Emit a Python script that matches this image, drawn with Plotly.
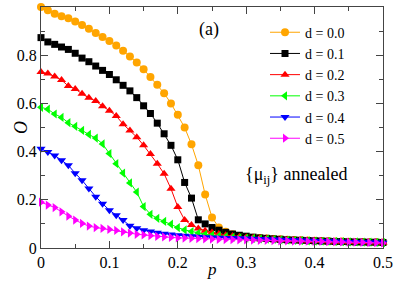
import plotly.graph_objects as go

p = [round(i * 0.01, 2) for i in range(51)]

o_d00 = [1.0, 0.987, 0.972, 0.962, 0.953, 0.94, 0.925, 0.91, 0.892, 0.876,
         0.859, 0.84, 0.818, 0.795, 0.77, 0.742, 0.71, 0.677, 0.642, 0.6,
         0.553, 0.5, 0.43, 0.343, 0.222, 0.127, 0.085, 0.067, 0.057, 0.05,
         0.046, 0.043, 0.041, 0.039, 0.037, 0.036, 0.034, 0.033, 0.032, 0.031,
         0.030, 0.029, 0.028, 0.027, 0.027, 0.026, 0.025, 0.025, 0.024, 0.024, 0.023]
o_d01 = [0.873, 0.855, 0.845, 0.834, 0.824, 0.808, 0.788, 0.773, 0.755, 0.737,
         0.72, 0.698, 0.675, 0.652, 0.624, 0.59, 0.558, 0.518, 0.474, 0.426,
         0.366, 0.272, 0.207, 0.117, 0.1, 0.085, 0.074, 0.065, 0.058, 0.053,
         0.049, 0.045, 0.042, 0.040, 0.038, 0.036, 0.034, 0.033, 0.032, 0.031,
         0.030, 0.029, 0.028, 0.027, 0.027, 0.026, 0.025, 0.025, 0.024, 0.024, 0.023]
o_d02 = [0.73, 0.724, 0.712, 0.697, 0.672, 0.66, 0.64, 0.623, 0.61, 0.588,
         0.57, 0.548, 0.514, 0.488, 0.46, 0.426, 0.39, 0.35, 0.308, 0.246,
         0.17, 0.116, 0.095, 0.081, 0.072, 0.064, 0.058, 0.053, 0.05, 0.047,
         0.045, 0.043, 0.041, 0.039, 0.037, 0.035, 0.034, 0.033, 0.032, 0.031,
         0.030, 0.029, 0.028, 0.027, 0.027, 0.026, 0.025, 0.025, 0.024, 0.024, 0.023]
o_d03 = [0.584, 0.576, 0.556, 0.542, 0.52, 0.505, 0.488, 0.471, 0.456, 0.432,
         0.392, 0.35, 0.311, 0.27, 0.232, 0.172, 0.14, 0.123, 0.11, 0.099,
         0.085, 0.075, 0.068, 0.062, 0.057, 0.053, 0.05, 0.047, 0.045, 0.043,
         0.041, 0.040, 0.038, 0.037, 0.036, 0.034, 0.033, 0.032, 0.031, 0.030,
         0.029, 0.028, 0.028, 0.027, 0.026, 0.025, 0.025, 0.024, 0.024, 0.023, 0.022]
o_d04 = [0.412, 0.398, 0.384, 0.364, 0.343, 0.31, 0.281, 0.247, 0.213, 0.184,
         0.157, 0.136, 0.116, 0.092, 0.082, 0.074, 0.068, 0.063, 0.059, 0.056,
         0.053, 0.051, 0.049, 0.047, 0.045, 0.044, 0.043, 0.042, 0.041, 0.040,
         0.039, 0.038, 0.037, 0.036, 0.035, 0.034, 0.033, 0.032, 0.031, 0.030,
         0.029, 0.028, 0.028, 0.027, 0.026, 0.025, 0.025, 0.024, 0.023, 0.023, 0.022]
o_d05 = [0.19, 0.178, 0.168, 0.15, 0.132, 0.116, 0.102, 0.091, 0.085, 0.081,
         0.077, 0.073, 0.067, 0.062, 0.057, 0.054, 0.051, 0.048, 0.046, 0.044,
         0.042, 0.041, 0.040, 0.039, 0.038, 0.037, 0.036, 0.035, 0.035, 0.034,
         0.034, 0.033, 0.032, 0.032, 0.031, 0.030, 0.030, 0.029, 0.029, 0.028,
         0.027, 0.027, 0.026, 0.026, 0.025, 0.024, 0.024, 0.023, 0.022, 0.022, 0.021]

names = ["d = 0.0", "d = 0.1", "d = 0.2", "d = 0.3", "d = 0.4", "d = 0.5"]
series = [o_d00, o_d01, o_d02, o_d03, o_d04, o_d05]
colors = ["#FFA500", "#000000", "#FF0000", "#00FF00", "#0000FF", "#FF00FF"]
symbols = ["circle", "square", "triangle-up", "triangle-left", "triangle-down", "triangle-right"]
sizes = [8, 7, 8, 8, 8, 8]

SERIF = "Liberation Serif, Times New Roman, serif"

fig = go.Figure()
for nm, ys, c, s, sz in zip(names, series, colors, symbols, sizes):
    fig.add_trace(go.Scatter(
        x=p, y=ys, name=nm, mode="lines+markers",
        line=dict(color=c, width=1),
        marker=dict(symbol=s, size=sz, color=c, line=dict(width=0)),
        cliponaxis=False,
    ))

axis_common = dict(
    showline=True, linecolor="#444444", linewidth=1, mirror="ticks",
    ticks="inside", ticklen=7, tickcolor="#444444", showgrid=False, zeroline=False,
    tickfont=dict(family=SERIF, size=16, color="black"),
)
fig.update_xaxes(range=[0, 0.5], tickvals=[0, 0.1, 0.2, 0.3, 0.4, 0.5],
                 ticktext=["0", "0.1", "0.2", "0.3", "0.4", "0.5"],
                 minor=dict(ticks="inside", ticklen=4, dtick=0.05, tickcolor="#444444"),
                 **axis_common)
fig.update_yaxes(range=[0, 1], tickvals=[0, 0.2, 0.4, 0.6, 0.8, 1],
                 ticktext=["0", "0.2", "0.4", "0.6", "0.8", "1"],
                 minor=dict(ticks="inside", ticklen=4, dtick=0.1, tickcolor="#444444"),
                 **axis_common)

fig.update_layout(
    width=399, height=281,
    margin=dict(l=41, r=11, t=6, b=33),
    paper_bgcolor="white", plot_bgcolor="white",
    showlegend=True,
    legend=dict(x=0.655, y=0.96, xanchor="left", yanchor="top",
                bgcolor="rgba(0,0,0,0)", tracegroupgap=0,
                font=dict(family=SERIF, size=14, color="black"),
                itemwidth=30),
    annotations=[
        dict(text="(a)", x=0.246, y=0.905, xref="x", yref="y", showarrow=False,
             font=dict(family=SERIF, size=18, color="black")),
        dict(text="{μ<sub>ij</sub>} annealed", x=0.373, y=0.3, xref="x", yref="y",
             showarrow=False, font=dict(family=SERIF, size=18, color="black")),
        dict(text="<i>O</i>", x=-0.095, y=0.5, xref="paper", yref="paper", showarrow=False,
             textangle=-90, font=dict(family=SERIF, size=18, color="black")),
        dict(text="<i>p</i>", x=0.5, y=-0.091, xref="paper", yref="paper", showarrow=False,
             yanchor="middle", font=dict(family=SERIF, size=17, color="black")),
    ],
)

fig.write_html("out.html", config={"displayModeBar": False},
               post_script="document.body.style.margin='0';")
